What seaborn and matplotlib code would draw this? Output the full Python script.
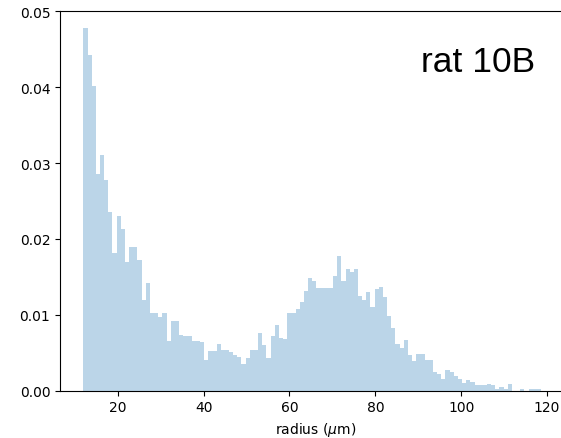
import numpy as np
import pandas as pd
import seaborn as sns
import matplotlib
matplotlib.use("Agg")
from matplotlib import pyplot as plt

# histogram of radii (density)
bin_lo = 12.0
bin_hi = 118.6
n_bins = 110
density = [
    0.0478, 0.0442, 0.0402, 0.0285, 0.0310, 0.0278, 0.0236, 0.0181, 0.0230, 0.0213,
    0.0170, 0.0190, 0.0189, 0.0172, 0.0119, 0.0142, 0.0103, 0.0103, 0.0097, 0.0103,
    0.0065, 0.0092, 0.0092, 0.0073, 0.0072, 0.0072, 0.0065, 0.0065, 0.0064, 0.0041,
    0.0052, 0.0052, 0.0062, 0.0054, 0.0054, 0.0051, 0.0047, 0.0044, 0.0035, 0.0043,
    0.0054, 0.0053, 0.0076, 0.0060, 0.0043, 0.0072, 0.0087, 0.0069, 0.0068, 0.0103,
    0.0103, 0.0108, 0.0117, 0.0132, 0.0149, 0.0144, 0.0136, 0.0136, 0.0136, 0.0136,
    0.0151, 0.0178, 0.0144, 0.0161, 0.0156, 0.0160, 0.0125, 0.0119, 0.0130, 0.0110,
    0.0134, 0.0137, 0.0123, 0.0099, 0.0082, 0.0062, 0.0056, 0.0067, 0.0047, 0.0039,
    0.0048, 0.0048, 0.0040, 0.0040, 0.0025, 0.0022, 0.0016, 0.0027, 0.0025, 0.0020,
    0.0015, 0.0010, 0.0014, 0.0012, 0.0007, 0.0007, 0.0007, 0.0009, 0.0007, 0.0002,
    0.0005, 0.0002, 0.0009, 0.0000, 0.0000, 0.0002, 0.0000, 0.0002, 0.0002, 0.0002,
]
x_ticks = [20, 40, 60, 80, 100, 120]
y_ticks = [0.00, 0.01, 0.02, 0.03, 0.04, 0.05]
label = "rat 10B"

edges = np.linspace(bin_lo, bin_hi, n_bins + 1)
df = pd.DataFrame({"radius": (edges[:-1] + edges[1:]) / 2, "density": density})

fig = plt.figure(figsize=(5.61, 4.39), dpi=100)
# the right spine sits just past the image edge, as in the original crop
ax = fig.add_axes([60 / 561, 47.3 / 439, 512 / 561, 379.4 / 439])

# one filled step outline so neighbouring bars have no seams
sns.histplot(data=df, x="radius", weights="density", bins=n_bins,
             binrange=(bin_lo, bin_hi), stat="count",
             element="step", fill=True, color="C0", alpha=0.3,
             linewidth=0, ax=ax)

ax.set_xlim(6.56, 125.8)
ax.set_ylim(0, 0.05)
ax.set_xticks(x_ticks)
ax.set_yticks(y_ticks)
ax.set_ylabel("")
ax.set_xlabel(r"radius ($\mu$m)")
ax.spines["right"].set_visible(False)

ax.text(0.705, 0.8434, label, transform=ax.transAxes, fontsize=25.5,
        family="Liberation Sans", ha="left", va="baseline")

fig.savefig("out.png", dpi=100)
